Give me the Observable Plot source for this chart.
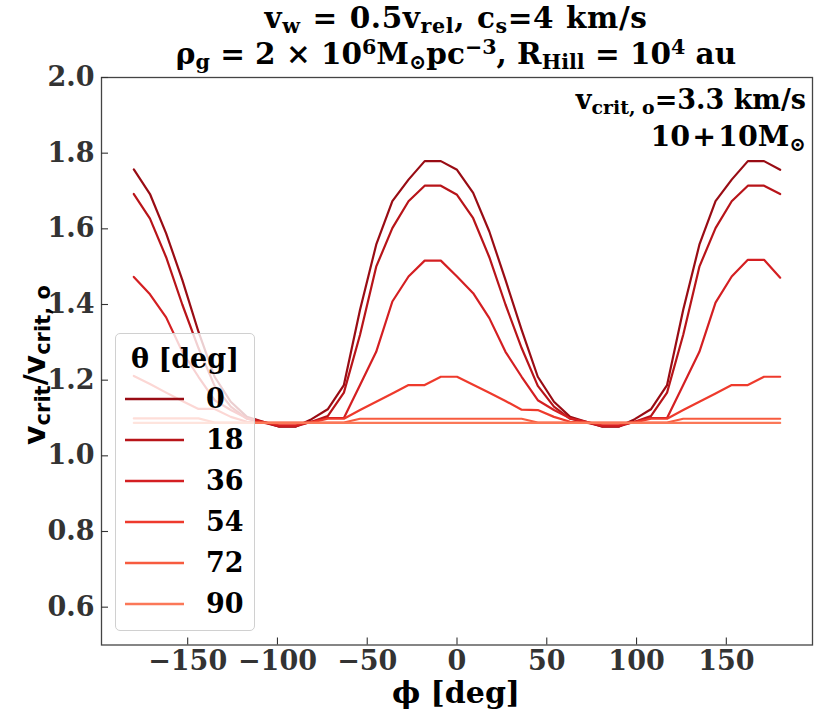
<!DOCTYPE html>
<html><head><meta charset="utf-8">
<script src="https://cdn.jsdelivr.net/npm/d3@7"></script>
<script src="https://cdn.jsdelivr.net/npm/@observablehq/plot@0.6"></script>
<style>
body{margin:0;background:#fff}
#wrap{position:relative;width:822px;height:723px;overflow:hidden;font-family:"DejaVu Serif";font-weight:bold;color:#000}
.abs{position:absolute;white-space:nowrap}
.sb{font-size:70%;vertical-align:-0.25em;line-height:0}
.sp{font-size:70%;vertical-align:0.5em;line-height:0}
.op{margin:0 2px}
#legend{position:absolute;left:115px;top:333px;width:138px;height:296px;border:1px solid #d0d0d0;border-radius:5px;background:rgba(255,255,255,0.8)}
#legend .ttl{position:absolute;left:0;width:138px;top:7px;text-align:center;font-size:27px;line-height:36px}
#legend .ent{position:absolute;left:0;width:138px;height:36px;line-height:36px;font-size:27px}
#legend .ent svg{position:absolute;left:9px;top:16px}
#legend .ent span{position:absolute;left:90px;top:0}
</style></head><body>
<div id="wrap">
  <div id="chart" class="abs" style="left:0;top:0"></div>
  <div class="abs" style="left:56px;width:800px;top:3px;text-align:center;font-size:29.5px;line-height:30px;letter-spacing:0.6px;word-spacing:1px">v<span class="sb">w</span> = 0.5v<span class="sb">rel</span>, c<span class="sb">s</span>=4 km/s</div>
  <div class="abs" style="left:56px;width:800px;top:39px;text-align:center;font-size:29.5px;line-height:30px">ρ<span class="sb">g</span> = 2 × 10<span class="sp">6</span>M<span class="sb">⊙</span>pc<span class="sp">−3</span>, R<span class="sb">Hill</span> = 10<span class="sp">4</span> au</div>
  <div class="abs" style="right:16px;top:82px;text-align:right;font-size:27px;line-height:36px">v<span class="sb">crit, o</span>=3.3 km/s</div>
  <div class="abs" style="right:16px;top:118px;text-align:right;font-size:28.5px;line-height:36px">10<span class="op">+</span>10M<span class="sb">⊙</span></div>
  <div class="abs" style="left:56px;width:800px;top:675px;text-align:center;font-size:30px;line-height:36px">ϕ [deg]</div>
  <div class="abs" style="left:-165px;top:347px;width:400px;height:36px;line-height:36px;text-align:center;font-family:'DejaVu Sans';font-size:30px;transform:rotate(-90deg);transform-origin:center">v<span class="sb">crit</span>/v<span class="sb">crit, o</span></div>
  <div id="legend"><div class="ttl">θ [deg]</div></div>
</div>
<script>
const phi = [-180,-171,-162,-153,-144,-135,-126,-117,-108,-99,-90,-81,-72,-63,-54,-45,-36,-27,-18,-9,0,9,18,27,36,45,54,63,72,81,90,99,108,117,126,135,144,153,162,171,180];
const thetas = [0, 18, 36, 54, 72, 90];
const v0 = [1.757,1.692,1.588,1.465,1.328,1.209,1.143,1.103,1.090,1.077,1.077,1.097,1.123,1.187,1.386,1.558,1.673,1.730,1.779,1.779,
            1.756,1.695,1.593,1.465,1.333,1.209,1.143,1.103,1.090,1.077,1.077,1.097,1.123,1.187,1.386,1.558,1.673,1.730,1.779,1.779,1.756];
const v18 = [1.692,1.627,1.525,1.400,1.285,1.185,1.130,1.098,1.088,1.078,1.078,1.090,1.105,1.167,1.320,1.500,1.602,1.673,1.714,1.714,
             1.690,1.628,1.525,1.400,1.285,1.185,1.130,1.098,1.088,1.078,1.078,1.090,1.105,1.167,1.320,1.500,1.602,1.673,1.714,1.714,1.692];
const v36 = [1.473,1.427,1.366,1.275,1.209,1.147,1.121,1.099,1.090,1.080,1.080,1.090,1.100,1.100,1.187,1.275,1.408,1.474,1.516,1.516,
             1.474,1.430,1.364,1.275,1.209,1.147,1.121,1.099,1.090,1.080,1.080,1.090,1.100,1.100,1.187,1.275,1.405,1.474,1.518,1.518,1.471];
const v54 = [1.211,1.190,1.167,1.145,1.124,1.124,1.103,1.090,1.087,1.085,1.085,1.088,1.098,1.098,1.121,1.143,1.165,1.187,1.187,1.209,
             1.209,1.188,1.167,1.145,1.122,1.121,1.103,1.090,1.087,1.085,1.085,1.088,1.098,1.098,1.121,1.143,1.165,1.187,1.187,1.209,1.209];
const v72 = [1.099,1.099,1.099,1.099,1.099,1.088,1.088,1.088,1.088,1.088,1.088,1.088,1.088,1.088,1.098,1.098,1.098,1.098,1.098,1.098,
             1.098,1.098,1.098,1.098,1.098,1.088,1.088,1.088,1.088,1.088,1.088,1.088,1.088,1.088,1.098,1.098,1.098,1.098,1.098,1.098,1.098];
const v90 = [1.087,1.087,1.087,1.087,1.087,1.087,1.087,1.087,1.087,1.087,1.087,1.087,1.087,1.087,1.087,1.087,1.087,1.087,1.087,1.087,
             1.087,1.087,1.087,1.087,1.087,1.087,1.087,1.087,1.087,1.087,1.087,1.087,1.087,1.087,1.087,1.087,1.087,1.087,1.087,1.087,1.087];
const series = [v0, v18, v36, v54, v72, v90];
const colors = ["#990c14", "#b81419", "#d41f22", "#ee3a2c", "#f75b3f", "#fb7858"];
const xTicks = [-150, -100, -50, 0, 50, 100, 150];
const yTicks = [0.6, 0.8, 1.0, 1.2, 1.4, 1.6, 1.8, 2.0];

const rows = thetas.flatMap((t, k) => phi.map((p, i) => ({phi: p, v: series[k][i], theta: t})));
const fmtX = d => d < 0 ? "\u2212" + (-d) : String(d);

const chart = Plot.plot({
  width: 822, height: 723,
  marginTop: 77, marginBottom: 78.5, marginLeft: 101, marginRight: 10,
  style: {fontFamily: "DejaVu Serif", fontWeight: "bold", background: "transparent"},
  x: {domain: [-198, 198]},
  y: {domain: [0.5, 2.0]},
  color: {type: "ordinal", domain: thetas, range: colors},
  marks: [
    Plot.line(rows, {x: "phi", y: "v", z: "theta", stroke: "theta", strokeWidth: 2.2}),
    Plot.frame({stroke: "#444", strokeWidth: 1.3}),
    Plot.axisX(xTicks, {tickSize: 7, dy: -7, fill: "none", label: null, stroke: "#333", strokeWidth: 1.1}),
    Plot.axisX(xTicks, {tickSize: 0, tickPadding: 6, fontSize: 27, fill: "#333", label: null, tickFormat: fmtX}),
    Plot.axisY(yTicks, {tickSize: 7, dx: 7, fill: "none", label: null, stroke: "#333", strokeWidth: 1.1}),
    Plot.axisY(yTicks, {tickSize: 0, tickPadding: 7, fontSize: 27, fill: "#333", label: null, tickFormat: d => d.toFixed(1)})
  ]
});
document.getElementById("chart").appendChild(chart);

const leg = document.getElementById("legend");
thetas.forEach((t, k) => {
  const e = document.createElement("div");
  e.className = "ent";
  e.style.top = (47 + 41 * k) + "px";
  e.innerHTML = `<svg width="60" height="4"><line x1="0" y1="2" x2="59" y2="2" stroke="${colors[k]}" stroke-width="2.4"/></svg><span>${t}</span>`;
  leg.appendChild(e);
});
</script>
</body></html>
